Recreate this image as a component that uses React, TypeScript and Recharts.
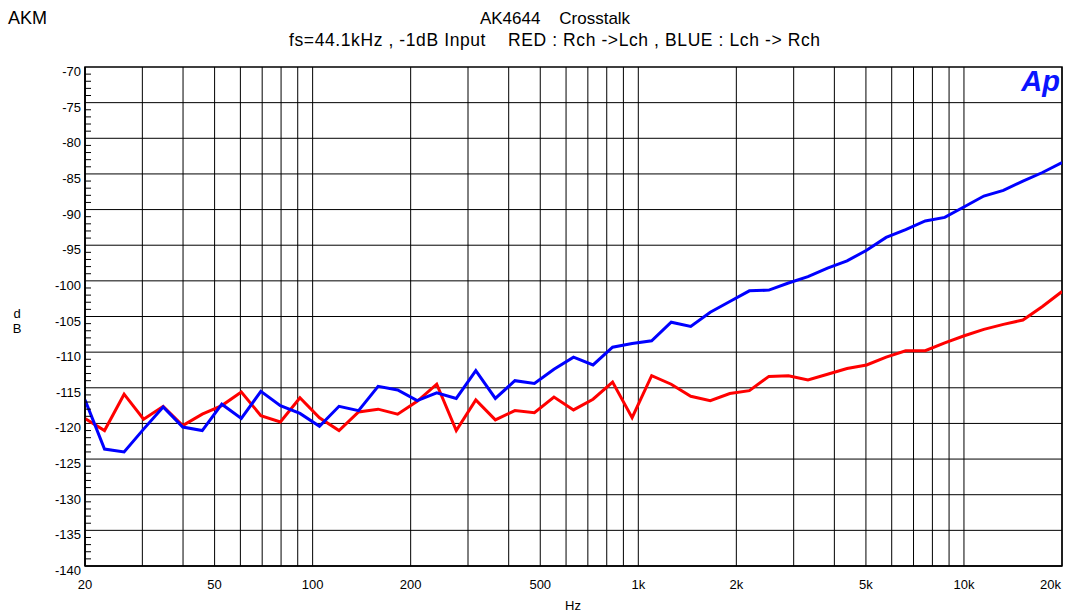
import React from "react";
import {
  LineChart,
  Line,
  XAxis,
  YAxis,
  CartesianGrid,
  ReferenceLine,
  ReferenceArea,
} from "recharts";

// Frequencies (Hz), 51 log-spaced sweep points
const freqs = [
  20, 22.96, 26.37, 30.27, 34.76, 39.91, 45.82, 52.61, 60.4, 69.35, 79.62,
  91.42, 104.96, 120.51, 138.37, 158.87, 182.4, 209.43, 240.46, 276.08, 316.98,
  363.94, 417.86, 479.77, 550.84, 632.46, 726.16, 833.74, 957.26, 1099.1,
  1261.9, 1448.9, 1663.5, 1910.0, 2193.0, 2517.9, 2890.9, 3319.1, 3810.9,
  4375.6, 5023.8, 5768.1, 6622.6, 7603.8, 8730.3, 10023.7, 11508.8, 13213.9,
  15171.6, 17419.3, 20000,
];

// RED : Rch -> Lch (dB)
const redValues = [
  -119.3, -121.0, -115.9, -119.4, -117.6, -120.3, -118.7, -117.5, -115.6,
  -118.9, -119.8, -116.4, -119.2, -121.0, -118.4, -118.0, -118.7, -116.9,
  -114.5, -121.0, -116.7, -119.5, -118.2, -118.5, -116.3, -118.1, -116.6,
  -114.2, -119.2, -113.3, -114.5, -116.2, -116.8, -115.8, -115.4, -113.4,
  -113.3, -113.9, -113.1, -112.3, -111.8, -110.7, -109.8, -109.8, -108.7,
  -107.7, -106.8, -106.1, -105.5, -103.6, -101.5,
];

// BLUE : Lch -> Rch (dB)
const blueValues = [
  -116.7, -123.6, -124.0, -120.8, -117.7, -120.5, -121.0, -117.3, -119.3,
  -115.5, -117.5, -118.6, -120.4, -117.6, -118.2, -114.8, -115.3, -116.8,
  -115.7, -116.5, -112.6, -116.5, -114.0, -114.4, -112.4, -110.7, -111.8,
  -109.3, -108.8, -108.4, -105.8, -106.4, -104.4, -102.9, -101.4, -101.3,
  -100.3, -99.4, -98.2, -97.2, -95.7, -93.9, -92.8, -91.6, -91.1, -89.6,
  -88.1, -87.3, -86.0, -84.8, -83.4,
];

// X grid positions and labels
const xGridTicks = [
  20, 30, 40, 50, 60, 70, 80, 90, 100, 200, 300, 400, 500, 600, 700, 800, 900,
  1000, 2000, 3000, 4000, 5000, 6000, 7000, 8000, 9000, 10000, 20000,
];
const xLabels: Record<number, string> = {
  20: "20",
  50: "50",
  100: "100",
  200: "200",
  500: "500",
  1000: "1k",
  2000: "2k",
  5000: "5k",
  10000: "10k",
  20000: "20k",
};

// Y ticks: majors every 5 dB, minors every 1 dB
const yMajorTicks = [-140, -135, -130, -125, -120, -115, -110, -105, -100, -95, -90, -85, -80, -75, -70];
const yMinorTicks: number[] = [];
for (let v = -140; v <= -70; v++) yMinorTicks.push(v);

const data = freqs.map((f, i) => ({ f, red: redValues[i], blue: blueValues[i] }));

const FONT = '"Liberation Sans", Arial, Helvetica, sans-serif';
const Y_TICK_MARGIN = 4;

const YTick = (props: any) => {
  const { x, y, payload } = props;
  const v = payload.value as number;
  const axisX = x + Y_TICK_MARGIN;
  const isMajor = v % 5 === 0;
  return (
    <g>
      {!isMajor && (
        <line x1={axisX} x2={axisX + 6} y1={y} y2={y} stroke="#000" strokeWidth={1} />
      )}
      {isMajor && (
        <text
          x={x}
          y={y}
          dy={9}
          textAnchor="end"
          fontSize={13}
          fontFamily={FONT}
          fill="#000"
        >
          {v}
        </text>
      )}
    </g>
  );
};

const XTick = (props: any) => {
  const { x, y, payload } = props;
  const v = payload.value as number;
  const label = xLabels[v];
  if (!label) return null;
  const isLast = v === xGridTicks[xGridTicks.length - 1];
  return (
    <text
      x={isLast ? x - 1 : x}
      y={y}
      dy="0.71em"
      textAnchor={isLast ? "end" : "middle"}
      fontSize={13}
      fontFamily={FONT}
      fill="#000"
    >
      {label}
    </text>
  );
};

export default function App() {
  return (
    <div style={{ position: "absolute", left: 0, top: 0, width: 1065, height: 616, background: "#fff" }}>
      <LineChart
        width={1065}
        height={616}
        data={data}
        margin={{ top: 67, right: 3, bottom: 20, left: 0 }}
      >
        <CartesianGrid horizontal={false} vertical={true} stroke="#000" strokeWidth={1} />
        <XAxis
          dataKey="f"
          type="number"
          scale="log"
          domain={[20, 20000]}
          allowDataOverflow
          ticks={xGridTicks}
          interval={0}
          tickLine={false}
          tickSize={0}
          tickMargin={14}
          height={30}
          axisLine={{ stroke: "#000", strokeWidth: 1.5 }}
          tick={<XTick />}
        />
        <YAxis
          type="number"
          domain={[-140, -70]}
          allowDataOverflow
          ticks={yMinorTicks}
          interval={0}
          width={85}
          tickLine={false}
          tickSize={0}
          tickMargin={Y_TICK_MARGIN}
          axisLine={{ stroke: "#000", strokeWidth: 1.5 }}
          tick={<YTick />}
        />
        {yMajorTicks.slice(1, -1).map((v) => (
          <ReferenceLine key={v} y={v} stroke="#000" strokeWidth={1} />
        ))}
        <ReferenceArea
          x1={20}
          x2={20000}
          y1={-140}
          y2={-70}
          fill="none"
          fillOpacity={0}
          stroke="#000"
          strokeWidth={1.5}
        />
        <Line
          dataKey="red"
          stroke="#ff0000"
          strokeWidth={3}
          dot={false}
          isAnimationActive={false}
        />
        <Line
          dataKey="blue"
          stroke="#0000ff"
          strokeWidth={3}
          dot={false}
          isAnimationActive={false}
        />
      </LineChart>
      <svg
        width={1065}
        height={616}
        style={{ position: "absolute", left: 0, top: 0, pointerEvents: "none" }}
      >
        <g fontFamily={FONT} fill="#000">
          <text x={8} y={24} fontSize={18}>AKM</text>
          <text x={555} y={24} fontSize={17} textAnchor="middle" style={{ whiteSpace: "pre" }}>
            {"AK4644    Crosstalk"}
          </text>
          <text
            x={554.5}
            y={46}
            fontSize={17.5}
            textAnchor="middle"
            textLength={531}
            lengthAdjust="spacing"
            style={{ whiteSpace: "pre" }}
          >
            {"fs=44.1kHz , -1dB Input    RED : Rch ->Lch , BLUE : Lch -> Rch"}
          </text>
          <text x={17} y={318} fontSize={13} textAnchor="middle">d</text>
          <text x={17} y={333} fontSize={13} textAnchor="middle">B</text>
          <text x={573} y={610} fontSize={13} textAnchor="middle">Hz</text>
          <text
            x={1060}
            y={91}
            fontSize={29}
            fontWeight={900}
            fontStyle="italic"
            textAnchor="end"
            fill="#0a14ff"
          >
            Ap
          </text>
        </g>
      </svg>
    </div>
  );
}
